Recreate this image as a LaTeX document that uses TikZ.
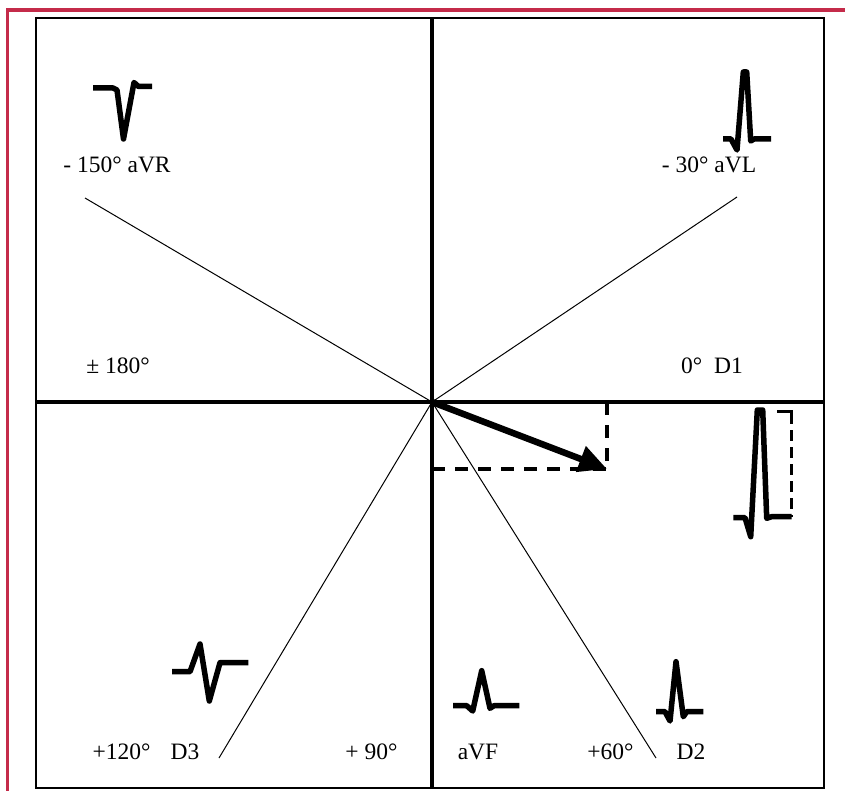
\documentclass[tikz,border=0pt]{standalone}
\usepackage{fontspec}
\setmainfont{Liberation Serif}
\usetikzlibrary{arrows.meta}
\definecolor{framered}{RGB}{196,43,74}
\tikzset{
  lbl/.style={font=\fontsize{23.5}{26}\selectfont, inner sep=0pt, anchor=base},
  wave/.style={line width=5.5pt, line join=round, line cap=butt},
  axis/.style={line width=3.5pt},
  lead/.style={line width=1pt},
  proj/.style={line width=3.5pt, dash pattern=on 13pt off 10pt},
  vec/.style={line width=6.5pt, -{Triangle[length=28pt,width=26pt]}}
}
\begin{document}
\begin{tikzpicture}[x=1pt,y=-1pt]
\useasboundingbox (0,0) rectangle (845,791);
% red partial frame
\draw[framered, line width=3.5pt] (7.5,795) -- (7.5,10) -- (850,10);
% inner frame
\draw[line width=2pt] (36,18) rectangle (824,788);
% named points
\coordinate (O) at (432,402);
\coordinate (Top) at (432,18);
\coordinate (Bot) at (432,788);
\coordinate (Lft) at (36,402);
\coordinate (Rgt) at (824,402);
\coordinate (RE) at (85,198);
\coordinate (LE) at (737,197);
\coordinate (D3E) at (219,758);
\coordinate (D2E) at (656,758);
\coordinate (T) at (607,469);
\coordinate (TX) at (607,402);
\coordinate (TY) at (432,469);
% axes
\draw[axis] (Top) -- (Bot);
\draw[axis, line width=4pt] (Lft) -- (Rgt);
% lead lines
\draw[lead] (O) -- (RE);
\draw[lead] (O) -- (LE);
\draw[lead] (O) -- (D3E);
\draw[lead] (O) -- (D2E);
% projections
\draw[proj] (TY) -- (T);
\draw[proj] (TX) -- (T);
% vector
\draw[vec] (O) -- (T);
% waveforms
\draw[wave] (93,88) -- (113,88) -- (117,90) -- (123.5,139) -- (134,82.5) -- (138.5,86.5) -- (152,86.5);
\draw[wave] (723,139) -- (731,139) -- (737,150) -- (743.3,72) -- (746.7,72) -- (750.7,141) -- (754,139) -- (771,139);
\draw[wave] (172,671.7) -- (190,671.7) -- (200,644) -- (209.3,701) -- (220,662.7) -- (248.3,662.7);
\draw[wave] (453,705.7) -- (466.7,705.7) -- (472.7,711) -- (481.7,670.7) -- (490,708.3) -- (494,705.7) -- (519.3,705.7);
\draw[wave] (656,711.7) -- (665,711.7) -- (670,721) -- (676,661.7) -- (683.3,716.7) -- (686.7,711.7) -- (703.3,711.7);
\draw[wave] (733.3,517.7) -- (745,517.7) -- (750.7,536.7) -- (757.3,410) -- (762.7,410) -- (766.7,518.3) -- (771.7,516.7) -- (791.7,516.7);
% dashed bracket by big waveform
\draw[line width=3pt] (777,411) -- (791,411) -- (791,424);
\draw[line width=3pt, dash pattern=on 11pt off 6pt] (791,430) -- (791,517);
% labels
\node[lbl] (lR) at (117,173) {- 150° aVR};
\node[lbl] (lL) at (709,173) {- 30° aVL};
\node[lbl] (l180) at (118,373) {± 180°};
\node[lbl] (l0) at (712,373) {0°\hspace{0.5em}D1};
\node[lbl] (l120) at (121.5,759) {+120°};
\node[lbl] (lD3) at (185,759) {D3};
\node[lbl] (l90) at (371.5,759) {+ 90°};
\node[lbl] (laVF) at (478,759) {aVF};
\node[lbl] (l60) at (610.5,759) {+60°};
\node[lbl] (lD2) at (691,759) {D2};
\end{tikzpicture}
\end{document}
